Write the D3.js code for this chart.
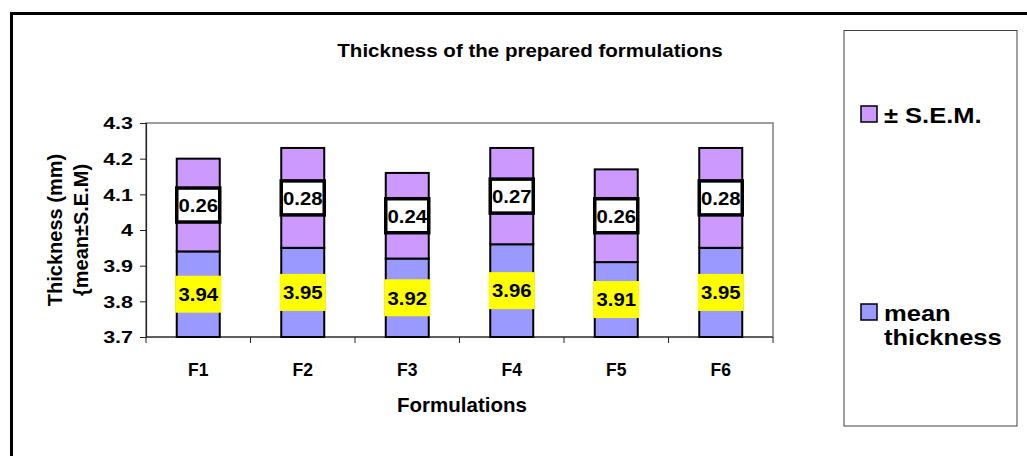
<!DOCTYPE html>
<html><head><meta charset="utf-8">
<script src="https://cdn.jsdelivr.net/npm/d3@7"></script>
<style>
body{margin:0;background:#fff;}
svg{display:block;font-family:"Liberation Sans",Arial,sans-serif;font-weight:bold;}
</style></head>
<body><svg id="c" width="1027" height="456"></svg>
<script>
const categories = ["F1","F2","F3","F4","F5","F6"];
const meanThickness = [3.94,3.95,3.92,3.96,3.91,3.95];
const sem = [0.26,0.28,0.24,0.27,0.26,0.28];
const yTicks = [3.7,3.8,3.9,4.0,4.1,4.2,4.3];
const legendLabels = [["± S.E.M."],["mean","thickness"]];
const colors = {mean:"#9999FF", sem:"#CC99FF"};

const FONT = "'Liberation Sans',Arial,sans-serif";
function stretch(sel, sx){
  sel.each(function(){
    const w = this.getComputedTextLength();
    d3.select(this).attr("textLength", w*sx).attr("lengthAdjust","spacingAndGlyphs");
  });
}

const svg = d3.select("#c");
const L=146,R=773,T=123,B=337;
const x = d3.scaleBand().domain(categories).range([L,R]);
const y = d3.scaleLinear().domain([3.7,4.3]).range([B,T]);
const bw = 43;

// outer frame (top & left)
svg.append("path").attr("d","M11.5,456 V13.5 H1027").attr("fill","none").attr("stroke","#000").attr("stroke-width",3);

// plot frame
svg.append("rect").attr("x",L).attr("y",T).attr("width",R-L).attr("height",B-T)
  .attr("fill","none").attr("stroke","#808080").attr("stroke-width",1.5);

// axes
const yAxis = d3.axisLeft(y).tickValues(yTicks).tickSize(6).tickFormat(d=>String(+d.toFixed(1)));
const gy = svg.append("g").attr("transform",`translate(${L},0)`).call(yAxis);
gy.attr("font-size",null).attr("font-family",null);
gy.select(".domain").attr("stroke","#222").attr("stroke-width",1.2);
gy.selectAll(".tick line").attr("stroke","#222");
const ytxt = gy.selectAll(".tick text").attr("font-size",16.5).attr("font-weight","bold").attr("font-family",FONT)
  .attr("fill","#000").attr("x",-13).attr("dy","0.36em");
stretch(ytxt,1.3);

const gx = svg.append("g").attr("transform",`translate(0,${B})`);
gx.append("line").attr("x1",L).attr("x2",R).attr("stroke","#222").attr("stroke-width",1.2);
const bounds = categories.map(c=>x(c)).concat([R]);
gx.selectAll(".xt").data(bounds).join("line").attr("x1",d=>d).attr("x2",d=>d).attr("y1",0).attr("y2",6).attr("stroke","#222");
gx.selectAll(".xl").data(categories).join("text").attr("x",d=>x(d)+x.bandwidth()/2).attr("y",38.5)
  .attr("text-anchor","middle").attr("font-size",17.5).text(d=>d);

// bars
const data = categories.map((c,i)=>({c,m:meanThickness[i],s:sem[i]}));
const g = svg.append("g");
g.selectAll(".bm").data(data).join("rect")
  .attr("x",d=>x(d.c)+x.bandwidth()/2-bw/2).attr("width",bw)
  .attr("y",d=>y(d.m)).attr("height",d=>y(3.7)-y(d.m))
  .attr("fill",colors.mean).attr("stroke","#000").attr("stroke-width",2);
g.selectAll(".bs").data(data).join("rect")
  .attr("x",d=>x(d.c)+x.bandwidth()/2-bw/2).attr("width",bw)
  .attr("y",d=>y(d.m+d.s)).attr("height",d=>y(d.m)-y(d.m+d.s))
  .attr("fill",colors.sem).attr("stroke","#000").attr("stroke-width",2);

// labels
const lw=46, lh=37;
data.forEach(d=>{
  const cx = x(d.c)+x.bandwidth()/2;
  const cy1 = (y(3.7)+y(d.m))/2;
  g.append("rect").attr("x",cx-lw/2).attr("y",cy1-lh/2).attr("width",lw).attr("height",lh).attr("fill","#FFFF00");
  stretch(g.append("text").attr("x",cx).attr("y",cy1).attr("dy","0.36em").attr("text-anchor","middle").attr("font-size",19).text(d.m.toFixed(2)),1.07);
  const cy2 = (y(d.m)+y(d.m+d.s))/2;
  g.append("rect").attr("x",cx-lw/2+1.5).attr("y",cy2-lh/2+1.5).attr("width",lw-3).attr("height",lh-3).attr("fill","#fff").attr("stroke","#000").attr("stroke-width",3.5);
  stretch(g.append("text").attr("x",cx).attr("y",cy2).attr("dy","0.36em").attr("text-anchor","middle").attr("font-size",19).text(d.s.toFixed(2)),1.07);
});

// titles
stretch(svg.append("text").attr("x",530).attr("y",57.3).attr("text-anchor","middle").attr("font-size",17.7).text("Thickness of the prepared formulations"),1.16);
svg.append("text").attr("x",462).attr("y",412).attr("text-anchor","middle").attr("font-size",20.5).text("Formulations");
const yt = svg.append("text").attr("transform","translate(0,230) rotate(-90)").attr("text-anchor","middle").attr("font-size",20);
yt.append("tspan").attr("x",0).attr("y",62).text("Thickness (mm)");
yt.append("tspan").attr("x",0).attr("y",88).text("{mean±S.E.M)");

// legend
svg.append("rect").attr("x",844).attr("y",30.5).attr("width",173).attr("height",395.5).attr("fill","#fff").attr("stroke","#404040").attr("stroke-width",1);
const legY = [106,304];
const legC = [colors.sem,colors.mean];
legendLabels.forEach((lines,k)=>{
  svg.append("rect").attr("x",861).attr("y",legY[k]).attr("width",16).attr("height",16).attr("fill",legC[k]).attr("stroke","#000").attr("stroke-width",1.5);
  const t = svg.append("text").attr("font-size",22);
  lines.forEach((s,i)=>stretch(t.append("tspan").attr("x",884).attr("y",legY[k]+16.5+i*24).text(s),1.16));
});
</script></body></html>
